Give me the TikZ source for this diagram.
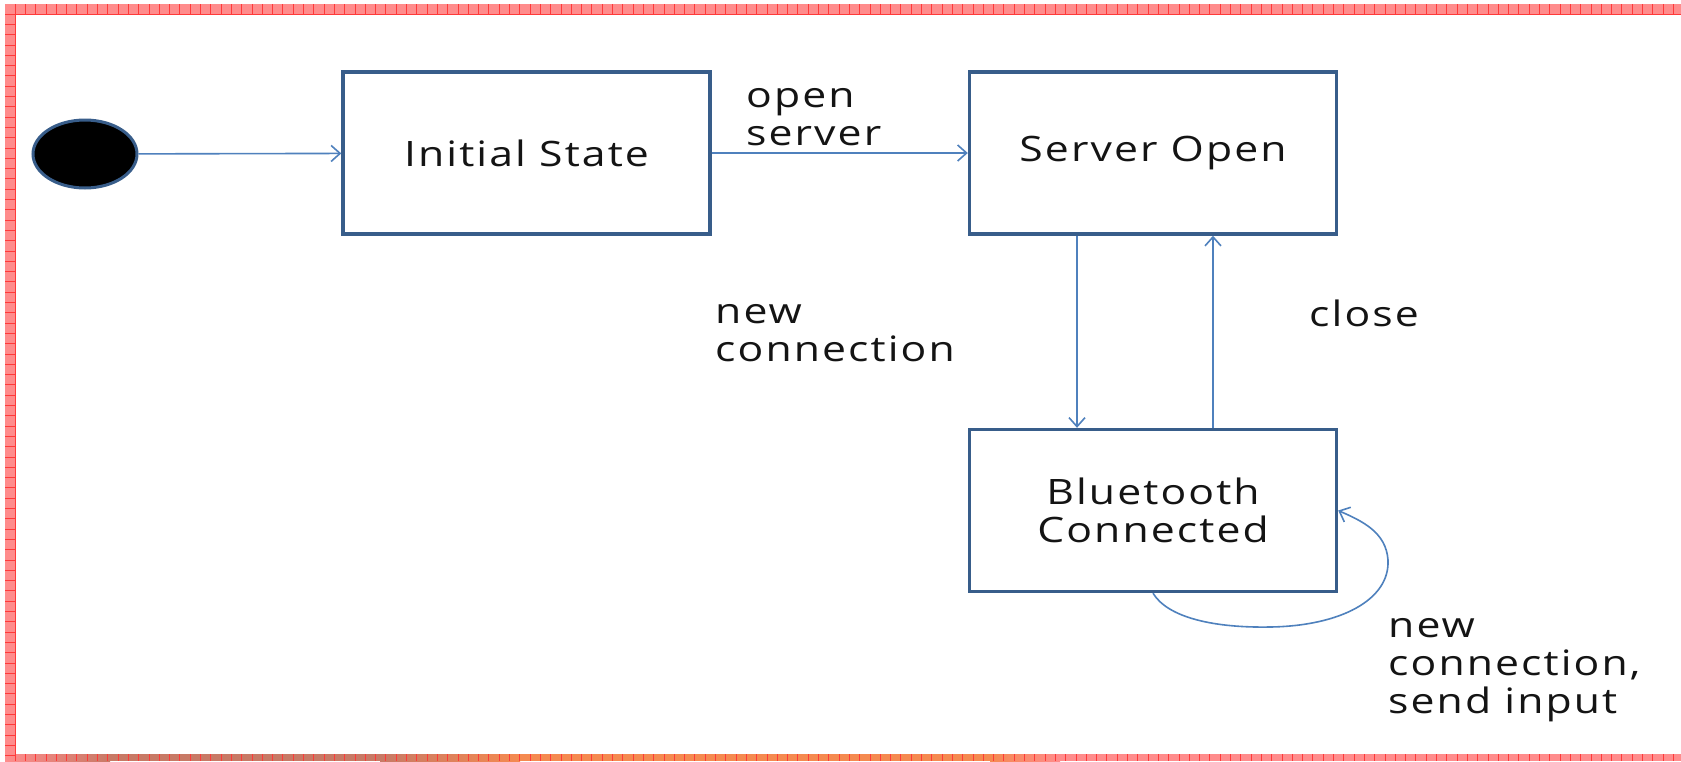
\documentclass[tikz,border=0pt]{standalone}
\usepackage{fontspec}
\setmainfont[FakeStretch=1.22,LetterSpace=6]{Open Sans}
\usetikzlibrary{arrows.meta,shapes.geometric}
\definecolor{boxblue}{HTML}{385D8A}
\definecolor{arrblue}{HTML}{4F81BD}
\definecolor{bandfill}{HTML}{FF8C8C}
\definecolor{bandline}{HTML}{FF3A3A}
\definecolor{bandbrown}{HTML}{C87A66}
\definecolor{bandorange}{HTML}{F58A50}
\definecolor{txt}{HTML}{141414}
\begin{document}
\begin{tikzpicture}[x=1pt,y=-1pt,
  state/.style={draw=boxblue, line width=3.4pt, minimum width=367pt, minimum height=162pt,
    align=center, font=\fontsize{35}{38}\selectfont, text=txt},
  arr/.style={draw=arrblue, line width=1.6pt,
    -{Straight Barb[length=9pt,width=16pt,line width=1.6pt]}},
  lab/.style={anchor=west, align=left, font=\fontsize{35}{38}\selectfont, inner sep=0pt, text=txt},
  startnode/.style={ellipse, draw=boxblue, line width=3pt, fill=black, minimum width=104pt, minimum height=68pt, inner sep=0pt}]
\useasboundingbox (0,0) rectangle (1681,761);
\fill[white] (0,0) rectangle (1681,761);
% border bands
\fill[bandfill] (5,4) rectangle (1681,14);
\fill[bandfill] (5,4) rectangle (15,754);
\shade[left color=bandfill, right color=bandbrown] (5,754) rectangle (110,761);
\fill[bandbrown] (110,754) rectangle (380,761);
\shade[left color=bandbrown, right color=bandorange] (380,754) rectangle (520,761);
\fill[bandorange] (520,754) rectangle (990,761);
\shade[left color=bandorange, right color=bandfill] (990,754) rectangle (1060,761);
\fill[bandfill] (1060,754) rectangle (1681,761);
\foreach \i in {0,...,163} {
  \draw[bandline, line width=0.8pt] (15+10.3*\i,4) -- (15+10.3*\i,14);
  \draw[bandline, line width=0.8pt] (15+10.3*\i,754) -- (15+10.3*\i,761);
}
\foreach \j in {0,...,72} {
  \draw[bandline, line width=0.8pt] (5,14+10.3*\j) -- (15,14+10.3*\j);
}
\draw[bandline, line width=0.8pt] (15,14) -- (1681,14);
\draw[bandline, line width=0.8pt] (15,14) -- (15,754);

% nodes
\node[startnode] (start) at (85,154) {};
\node[state] (init) at (526.5,153) {Initial\ State};
\node[state] (srv) at (1153,153) {Server Open};
\node[state] (bc) at (1153,510.5) {Bluetooth\\Connected};

\coordinate (dx) at (1077,0);
\coordinate (ux) at (1213,0);

\node[lab] (l1) at (746,117) {open\\server};
\node[lab] (l2) at (715,333) {new\\connection};
\node[lab] (l3) at (1309,313) {close};
\node[lab] (l4) at (1388,670) {new\\connection,\\send input};

% edges
\draw[arr] (start) -- (init);
\draw[arr] (init) -- (srv);
\draw[arr] (srv.south -| dx) -- (bc.north -| dx);
\draw[arr] (bc.north -| ux) -- (srv.south -| ux);
\draw[arr] (bc.south) .. controls (1168,618) and (1215,628) .. (1270,627)
   .. controls (1340,626) and (1390,600) .. (1388,560)
   .. controls (1386,532) and (1362,521) .. (bc.east);
\end{tikzpicture}
\end{document}
